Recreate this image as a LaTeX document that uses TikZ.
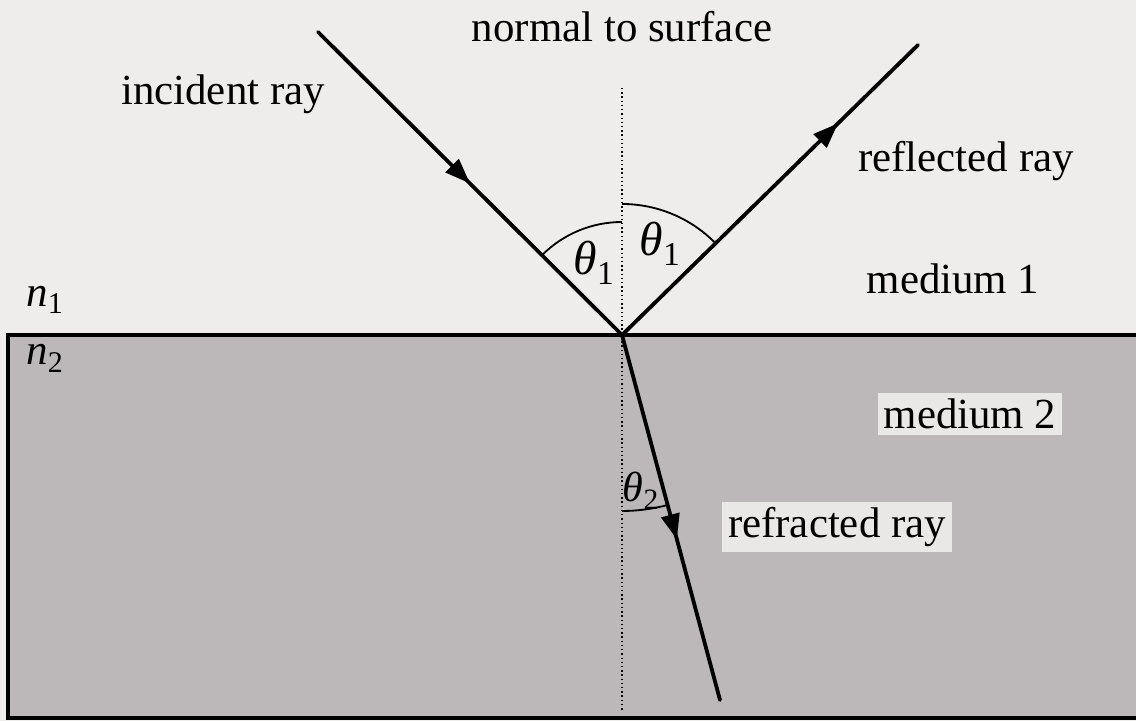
\documentclass[tikz,border=0pt]{standalone}
\usepackage{fontspec}
\setmainfont{Liberation Serif}
\usetikzlibrary{arrows.meta,decorations.markings}
\definecolor{paper}{RGB}{239,236,236}
\definecolor{medgrey}{RGB}{188,184,185}
\definecolor{labelbg}{RGB}{234,231,231}
\tikzset{
  lbl/.style={font=\fontsize{30.5}{35}\selectfont, inner sep=2pt},
  anglbl/.style={font=\fontsize{34}{38}\selectfont, inner sep=1pt},
  boxlbl/.style={lbl, fill=labelbg, inner sep=4pt},
  ray/.style={line width=2.7pt, line cap=round},
  midarrow/.style={postaction={decorate}, decoration={markings,
     mark=at position #1 with {\arrow{Triangle[length=18pt,width=13pt]}}}},
  anglearc/.style={line width=1.3pt},
  normalline/.style={line width=1pt, dotted},
  border/.style={line width=2.2pt},
}
\newcommand{\thsub}[1]{\textit{θ}\textsubscript{#1}}
\newcommand{\nsub}[1]{\textit{n}\textsubscript{#1}}
\begin{document}
\begin{tikzpicture}[x=0.025cm,y=0.025cm]
\fill[paper] (0,0) rectangle (1136,721);
\useasboundingbox (0,0) rectangle (1136,721);
% medium 2
\fill[medgrey] (8,3) rectangle (1136,386);
\draw[border] (1136,386) -- (8,386) -- (8,3) -- (1136,3);
% points
\coordinate (O) at (622,386);
\coordinate (Nt) at (622,633);
\coordinate (Nb) at (622,9);
\coordinate (Inc) at (318,689);
\coordinate (Refl) at (918,676);
\coordinate (Refr) at (720,21);
% normal
\draw[normalline] (Nt) -- (Nb);
% arcs
\draw[anglearc] (O) ++(90:113) arc[start angle=90,end angle=135,radius=113];
\draw[anglearc] (O) ++(90:131) arc[start angle=90,end angle=44.4,radius=131];
\draw[anglearc] (O) ++(270:176) arc[start angle=270,end angle=285,radius=176];
% rays
\draw[ray, midarrow=0.50] (Inc) -- (O);
\draw[ray, midarrow=0.73] (O) -- (Refl);
\draw[ray, midarrow=0.56] (O) -- (Refr);
% labels
\node[lbl] (tnormal) at (622,694) {normal to surface};
\node[lbl] (tinc) at (223,627) {incident ray};
\node[lbl] (trefl) at (966,560) {reflected ray};
\node[lbl] (tm1) at (953,442) {medium 1};
\node[lbl] (tn1) at (45,421) {\nsub{1}};
\node[lbl] (tn2) at (45,363) {\nsub{2}};
\node[anglbl] (tth1a) at (594,458) {\thsub{1}};
\node[anglbl] (tth1b) at (660,477) {\thsub{1}};
\node[boxlbl] (tm2) at (970,307) {medium 2};
\node[boxlbl] (trefr) at (837,194) {refracted ray};
\node[anglbl, font=\fontsize{30}{34}\selectfont] (tth2) at (641,230) {\thsub{2}};
\end{tikzpicture}
\end{document}
